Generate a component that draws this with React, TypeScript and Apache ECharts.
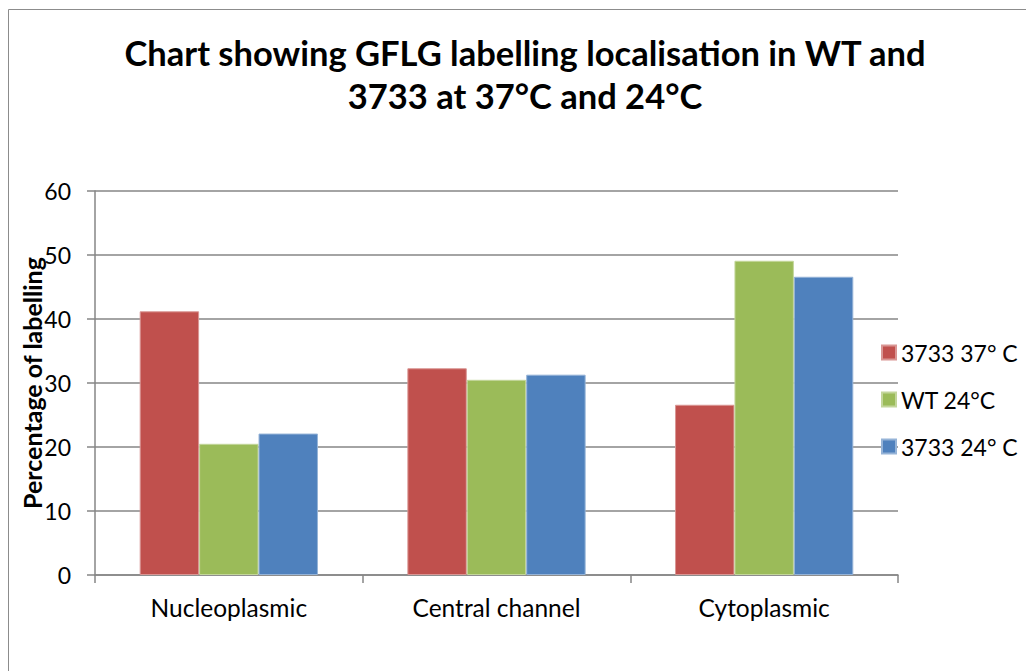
import React, { useEffect, useRef } from "react";
import * as echarts from "echarts";

const categories = ["Nucleoplasmic", "Central channel", "Cytoplasmic"];
const seriesNames = ["3733 37° C", "WT 24°C", "3733 24° C"];
const red37 = [41.2, 32.3, 26.6];
const wt24 = [20.5, 30.5, 49.1];
const blue24 = [22.1, 31.3, 46.6];
const colors = ["#C0504D", "#9BBB59", "#4F81BD"];
const borders = ["#D99694", "#C3D69B", "#95B3D7"];
const titleLines = ["Chart showing GFLG labelling localisation in WT and", "3733 at 37°C and 24°C"];
const yAxisTitle = "Percentage of labelling";

const FONT = "Lato, 'Open Sans', sans-serif";

export default function App() {
  const ref = useRef<HTMLDivElement>(null);
  useEffect(() => {
    if (!ref.current) return;
    const chart = echarts.init(ref.current, null, { renderer: "svg" });
    const values = [red37, wt24, blue24];
    chart.setOption({
      animation: false,
      backgroundColor: "#ffffff",
      textStyle: { fontFamily: FONT },
      graphic: [
        {
          type: "rect",
          shape: { x: 8.5, y: 9.5, width: 1100, height: 1000 },
          style: { fill: "none", stroke: "#8c8c8c", lineWidth: 1 },
          silent: true,
        },
        {
          type: "text",
          x: 525,
          y: 31,
          style: {
            text: titleLines.join("\n"),
            textAlign: "center",
            fontFamily: FONT,
            fontWeight: "bold",
            fontSize: 34.5,
            lineHeight: 43,
            fill: "#000",
          },
        },
      ],
      legend: {
        orient: "vertical",
        left: 876,
        top: 335,
        itemWidth: 14,
        itemHeight: 14,
        itemGap: 22,
        icon: "rect",
        textStyle: { fontFamily: FONT, fontSize: 23, color: "#000", lineHeight: 25 },
        data: seriesNames,
      },
      grid: { left: 95, right: 128, top: 191, bottom: 96 },
      xAxis: {
        type: "category",
        data: categories,
        axisLine: { lineStyle: { color: "#868686", width: 1.5 } },
        axisTick: { show: true, length: 8, lineStyle: { color: "#868686", width: 1.5 } },
        axisLabel: { fontFamily: FONT, fontSize: 24.5, color: "#000", margin: 20 },
      },
      yAxis: {
        type: "value",
        min: 0,
        max: 60,
        interval: 10,
        name: yAxisTitle,
        nameLocation: "middle",
        nameRotate: 90,
        nameGap: 51,
        nameMoveOverlap: false,
        nameTextStyle: { fontFamily: FONT, fontSize: 25, fontWeight: "bold", color: "#000" },
        axisLine: { show: true, lineStyle: { color: "#868686", width: 1.5 } },
        axisTick: { show: true, length: 8, lineStyle: { color: "#868686", width: 1.5 } },
        axisLabel: { fontFamily: FONT, fontSize: 23, color: "#000", margin: 24 },
        splitLine: { lineStyle: { color: "#868686", width: 1.5 } },
      },
      series: seriesNames.map((name, i) => ({
        name,
        type: "bar",
        data: values[i],
        barGap: "0%",
        barCategoryGap: "33.4%",
        itemStyle: { color: colors[i], borderColor: borders[i], borderWidth: 1 },
      })),
    });
    return () => chart.dispose();
  }, []);
  return (
    <div
      ref={ref}
      style={{ position: "fixed", left: 0, top: 0, width: 1026, height: 671, background: "#fff" }}
    />
  );
}
